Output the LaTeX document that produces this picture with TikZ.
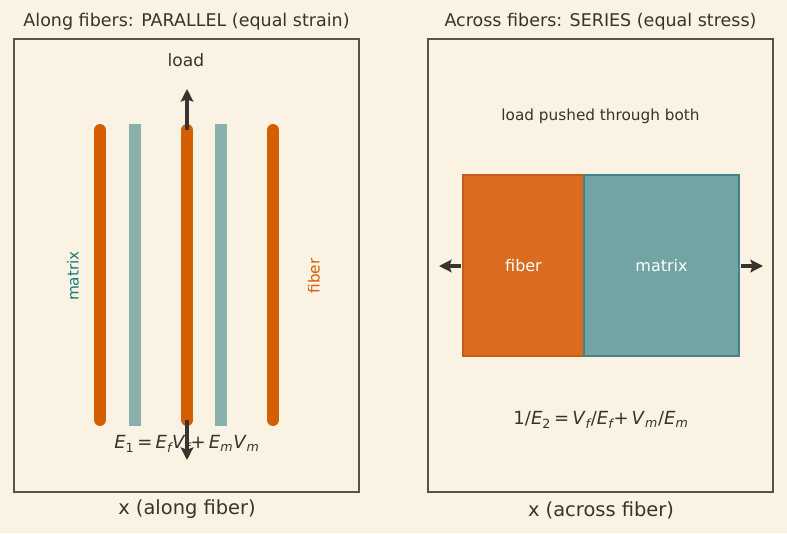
\documentclass[tikz,border=0pt]{standalone}
\usepackage{fontspec}
\setmainfont{DejaVu Sans}
\usetikzlibrary{arrows.meta}
\definecolor{bg}{RGB}{250,242,227}
\definecolor{frame}{RGB}{90,82,72}
\definecolor{ink}{RGB}{58,50,44}
\definecolor{fib}{RGB}{213,94,0}
\definecolor{mat}{RGB}{138,176,172}
\definecolor{fibbox}{RGB}{217,108,31}
\definecolor{fibedge}{RGB}{200,90,20}
\definecolor{matbox}{RGB}{114,163,165}
\definecolor{matedge}{RGB}{74,128,136}
\definecolor{matlabel}{RGB}{26,122,122}
\newcommand{\sbs}[1]{\textsubscript{\itshape #1}}
\begin{document}
\begin{tikzpicture}[x=0.72pt,y=-0.72pt,
  panel/.style={draw=frame,line width=1.1pt},
  fibline/.style={draw=fib,line width=8.6pt,line cap=round},
  matline/.style={draw=mat,line width=8.6pt},
  loadarrow/.style={draw=ink,line width=2.3pt,-{Stealth[length=9pt,width=9pt,inset=1.5pt]}},
  txt/.style={text=ink,inner sep=0pt},
  boxlabel/.style={text=white,font=\fontsize{11.5}{13}\selectfont,inner sep=0pt}]
\fill[bg] (0,0) rectangle (787,533);
\useasboundingbox (0,0) rectangle (787,533);
% titles
\node[txt,font=\fontsize{12.6}{14}\selectfont] (t1) at (186.5,22) {Along fibers: PARALLEL (equal strain)};
\node[txt,font=\fontsize{12.6}{14}\selectfont] (t2) at (600.5,22) {Across fibers: SERIES (equal stress)};
% panels
\draw[panel] (14,39) rectangle (359,492);
\draw[panel] (428,39) rectangle (773,492);
% left panel bars
\coordinate (f1t) at (100,130); \coordinate (f1b) at (100,420);
\coordinate (f2t) at (187,130); \coordinate (f2b) at (187,420);
\coordinate (f3t) at (273,130); \coordinate (f3b) at (273,420);
\coordinate (m1t) at (135,124); \coordinate (m1b) at (135,426);
\coordinate (m2t) at (221,124); \coordinate (m2b) at (221,426);
\draw[matline] (m1t) -- (m1b);
\draw[matline] (m2t) -- (m2b);
\draw[fibline] (f1t) -- (f1b);
\draw[fibline] (f2t) -- (f2b);
\draw[fibline] (f3t) -- (f3b);
% load arrows
\coordinate (uptip) at (187,89);
\coordinate (dntip) at (187,460);
\draw[loadarrow] (f2t) -- (uptip);
\draw[loadarrow] (f2b) -- (dntip);
\node[txt,font=\fontsize{12.3}{14}\selectfont] (load) at (186,60) {load};
\node[text=matlabel,inner sep=0pt,rotate=90,font=\fontsize{11}{13}\selectfont] (lm) at (73,276) {matrix};
\node[text=fib,inner sep=0pt,rotate=90,font=\fontsize{11}{13}\selectfont] (lf) at (314,276) {fiber};
\node[txt,font=\fontsize{13}{15}\selectfont] (eq1) at (187,444) {\textit{E}\textsubscript{1}\,=\,\textit{E}\sbs{f}\textit{V}\sbs{f}+\,\textit{E}\sbs{m}\textit{V}\sbs{m}};
\node[txt,font=\fontsize{14}{16}\selectfont] (xl1) at (187,509) {x (along fiber)};
% right panel
\node[txt,font=\fontsize{11}{13}\selectfont] (lp) at (600.5,116) {load pushed through both};
\draw[fill=fibbox,draw=fibedge,line width=0.8pt] (463,175) rectangle (584,356);
\draw[fill=matbox,draw=matedge,line width=0.8pt] (584,175) rectangle (739,356);
\node[boxlabel] (fl) at (523.5,266) {fiber};
\node[boxlabel] (ml) at (661.5,266) {matrix};
\coordinate (la) at (461,266); \coordinate (lat) at (439,266);
\coordinate (ra) at (741,266); \coordinate (rat) at (763,266);
\draw[loadarrow] (la) -- (lat);
\draw[loadarrow] (ra) -- (rat);
\node[txt,font=\fontsize{13}{15}\selectfont] (eq2) at (601,420) {1/\textit{E}\textsubscript{2}\,=\,\textit{V}\sbs{f}/\textit{E}\sbs{f}+\,\textit{V}\sbs{m}/\textit{E}\sbs{m}};
\node[txt,font=\fontsize{14}{16}\selectfont] (xl2) at (601,510) {x (across fiber)};
\end{tikzpicture}
\end{document}
